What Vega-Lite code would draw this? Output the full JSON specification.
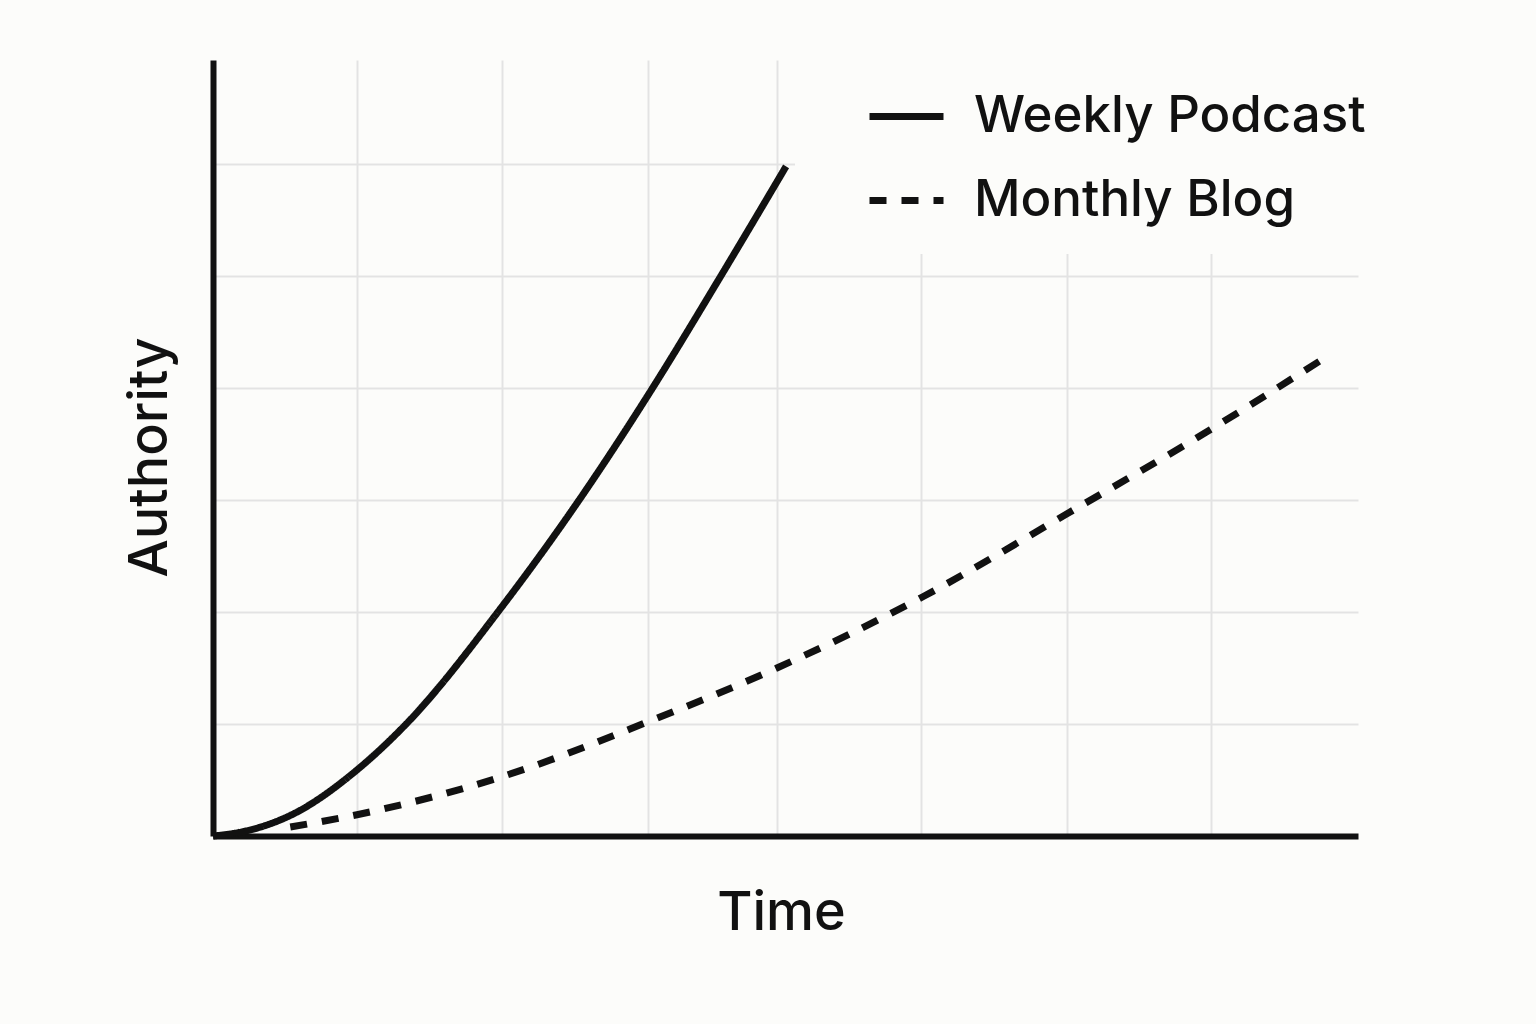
{
  "$schema": "https://vega.github.io/schema/vega-lite/v6.json",
  "description": "Authority over time: weekly podcast vs monthly blog.",
  "width": 1145,
  "height": 776,
  "autosize": {"type": "none"},
  "padding": {"left": 213, "top": 60, "right": 178, "bottom": 188},
  "background": "#fcfcfa",
  "config": {
    "view": {"stroke": null},
    "font": "Inter",
    "axis": {
      "domainColor": "#111111",
      "domainWidth": 6,
      "ticks": false,
      "labels": false,
      "gridColor": "#e3e3e3",
      "gridWidth": 2,
      "titleFont": "Inter",
      "titleFontSize": 54,
      "titleFontWeight": 500,
      "titleColor": "#111111"
    }
  },
  "data": {
    "values": [
      {"series": "Weekly Podcast", "time": 0, "authority": 0},
      {"series": "Weekly Podcast", "time": 0.175, "authority": 0.03},
      {"series": "Weekly Podcast", "time": 0.566, "authority": 0.2},
      {"series": "Weekly Podcast", "time": 1.006, "authority": 0.59},
      {"series": "Weekly Podcast", "time": 1.342, "authority": 0.99},
      {"series": "Weekly Podcast", "time": 2.02, "authority": 2.05},
      {"series": "Weekly Podcast", "time": 2.558, "authority": 3.0},
      {"series": "Weekly Podcast", "time": 3.061, "authority": 3.98},
      {"series": "Weekly Podcast", "time": 3.529, "authority": 4.96},
      {"series": "Weekly Podcast", "time": 4.004, "authority": 5.98},
      {"series": "Monthly Blog", "time": 0.54, "authority": 0.08},
      {"series": "Monthly Blog", "time": 1.006, "authority": 0.19},
      {"series": "Monthly Blog", "time": 2.02, "authority": 0.53},
      {"series": "Monthly Blog", "time": 3.04, "authority": 1.02},
      {"series": "Monthly Blog", "time": 3.94, "authority": 1.5},
      {"series": "Monthly Blog", "time": 4.95, "authority": 2.13},
      {"series": "Monthly Blog", "time": 5.97, "authority": 2.88},
      {"series": "Monthly Blog", "time": 6.97, "authority": 3.63},
      {"series": "Monthly Blog", "time": 7.78, "authority": 4.28}
    ]
  },
  "mark": {
    "type": "line",
    "interpolate": "monotone",
    "strokeWidth": 7,
    "color": "#111111",
    "strokeCap": "butt"
  },
  "encoding": {
    "x": {
      "field": "time",
      "type": "quantitative",
      "scale": {"domain": [0, 8], "nice": false, "zero": false},
      "axis": {
        "title": "Time",
        "titlePadding": 50,
        "titleX": 568,
        "values": [1.006, 2.02, 3.04, 3.94, 4.95, 5.97, 6.97]
      }
    },
    "y": {
      "field": "authority",
      "type": "quantitative",
      "scale": {"domain": [0, 6.93], "nice": false, "zero": false},
      "axis": {
        "title": "Authority",
        "titlePadding": 36,
        "titleY": 397,
        "values": [1, 2, 3, 4, 5, 6]
      }
    },
    "strokeDash": {
      "field": "series",
      "type": "nominal",
      "scale": {
        "domain": ["Weekly Podcast", "Monthly Blog"],
        "range": [[1, 0], [17, 15]]
      },
      "legend": {
        "title": null,
        "orient": "none",
        "legendX": 582,
        "legendY": -12,
        "padding": 28,
        "fillColor": "#fcfcfa",
        "symbolType": "stroke",
        "symbolSize": 5476,
        "symbolStrokeWidth": 7,
        "symbolStrokeColor": "#111111",
        "symbolOffset": 43,
        "labelFont": "Inter",
        "labelFontSize": 51,
        "labelFontWeight": 500,
        "labelColor": "#111111",
        "labelOffset": 27,
        "labelLimit": 700,
        "rowPadding": 18
      }
    }
  }
}
